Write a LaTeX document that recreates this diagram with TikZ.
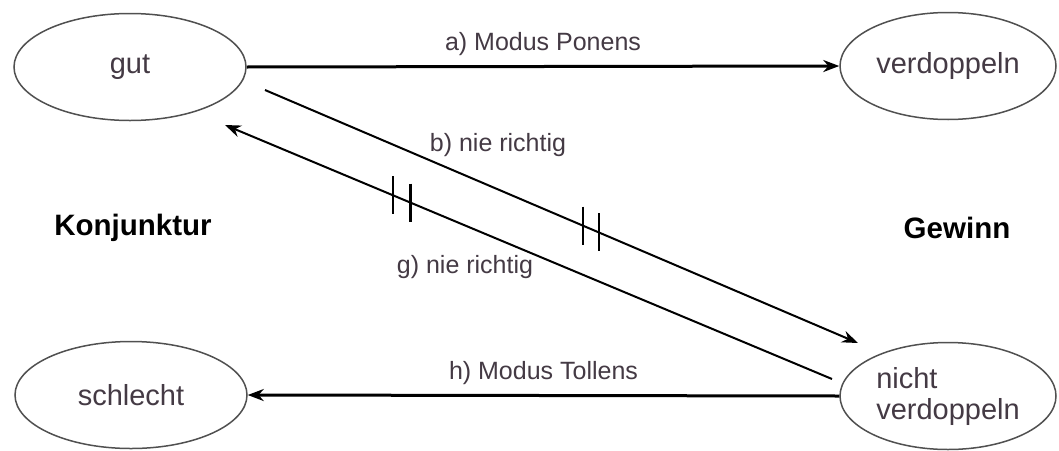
\documentclass[tikz,border=0pt]{standalone}
\usepackage{fontspec}
\setmainfont{Liberation Sans}
\usetikzlibrary{shapes.geometric,arrows.meta,calc}
\definecolor{txt}{RGB}{68,58,68}
\definecolor{ell}{RGB}{80,80,80}
\begin{document}
\begin{tikzpicture}[x=1pt,y=-1pt,
  state/.style={ellipse,draw=ell,line width=1.5pt,minimum width=232pt,minimum height=107pt,inner sep=0pt,text=txt,font=\fontsize{29}{31}\selectfont,align=left},
  lbl/.style={text=txt,font=\fontsize{25}{27}\selectfont,inner sep=0pt},
  bold/.style={text=black,font=\fontsize{29.5}{31}\selectfont\bfseries,inner sep=0pt},
  thick arrow/.style={line width=3pt,-{Stealth[length=16pt,width=12pt]}},
  thin arrow/.style={line width=2pt,-{Stealth[length=16pt,width=12pt]}},
  tick/.style={line width=2.6pt}]
\useasboundingbox (0,0) rectangle (1059,450);
\fill[white] (0,0) rectangle (1059,450);
\node[state] (gut) at (130,67) {gut};
\node[state,minimum width=216pt] (verd) at (948,66) {verdoppeln};
\node[state] (schl) at (131,395) {schlecht};
\node[state,minimum width=216pt] (nverd) at (948,396) {nicht\\verdoppeln};
\node[bold] (konj) at (133,228) {Konjunktur};
\node[bold] (gew) at (957,228) {Gewinn};
% a
\draw[thick arrow] (gut.east) -- (verd.west) node[lbl,midway,above=9pt] (la) {a) Modus Ponens};
% h
\draw[thick arrow] (nverd.west) -- (schl.east) node[lbl,midway,above=9pt] (lh) {h) Modus Tollens};
% b
\coordinate (bs) at (265,90);
\coordinate (be) at (858,343);
\draw[thin arrow] (bs) -- (be);
\node[lbl] (lb) at (498,145) {b) nie richtig};
% g
\coordinate (gs) at (832,379);
\coordinate (ge) at (225,125);
\draw[thin arrow] (gs) -- (ge);
\node[lbl] (lg) at (465,267) {g) nie richtig};
% ticks
\draw[tick] ($(bs)!0.536!(be)$) ++(0,-19) -- ++(0,38);
\draw[tick] ($(bs)!0.563!(be)$) ++(0,-19) -- ++(0,38);
\draw[tick] ($(gs)!0.723!(ge)$) ++(0,-19) -- ++(0,38);
\draw[tick] ($(gs)!0.694!(ge)$) ++(0,-19) -- ++(0,38);
\end{tikzpicture}
\end{document}
